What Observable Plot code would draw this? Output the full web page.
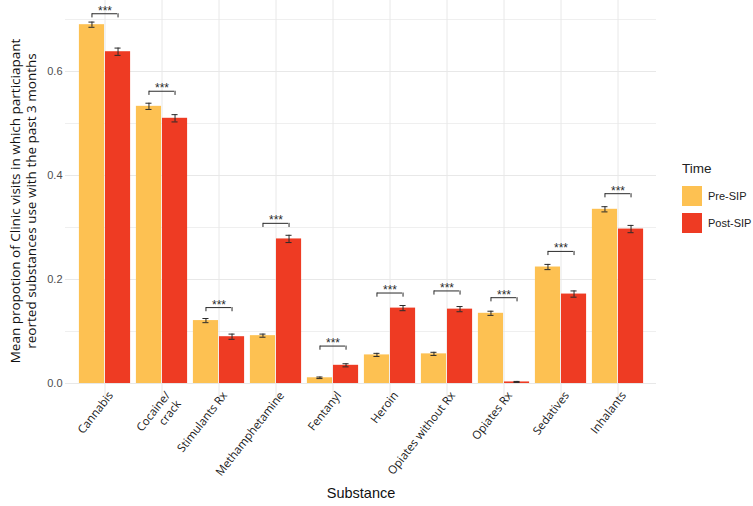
<!DOCTYPE html>
<html>
<head>
<meta charset="utf-8">
<script src="https://cdn.jsdelivr.net/npm/d3@7"></script>
<script src="https://cdn.jsdelivr.net/npm/@observablehq/plot@0.6"></script>
<style>
  html, body { margin: 0; padding: 0; background: #fff; }
  #wrap { position: relative; width: 753px; height: 506px; overflow: hidden; }
  .legend { position: absolute; left: 682px; top: 160px; font-family: "Liberation Sans", Arial, sans-serif; color: #222; white-space: nowrap; }
  .legend .title { font-size: 13.5px; height: 22px; line-height: 18px; }
  .legend .row { display: flex; align-items: center; height: 27px; }
  .legend .sw { width: 20px; height: 20px; margin-right: 6px; flex: none; }
  .legend .lab { font-size: 11px; white-space: nowrap; }
</style>
</head>
<body>
<div id="wrap"></div>
<script>
// ---- data ----
const substances = ["Cannabis", "Cocaine/\ncrack", "Stimulants Rx", "Methamphetamine", "Fentanyl",
  "Heroin", "Opiates without Rx", "Opiates Rx", "Sedatives", "Inhalants"];
const preSIP  = [0.690, 0.533, 0.121, 0.092, 0.011, 0.055, 0.057, 0.135, 0.224, 0.335];
const postSIP = [0.638, 0.510, 0.090, 0.278, 0.035, 0.145, 0.143, 0.003, 0.172, 0.297];
const preErr  = [0.005, 0.006, 0.004, 0.003, 0.0015, 0.003, 0.003, 0.004, 0.005, 0.005];
const postErr = [0.007, 0.007, 0.005, 0.007, 0.003, 0.005, 0.005, 0.001, 0.006, 0.007];
const sigHeights = [0.711, 0.562, 0.146, 0.308, 0.072, 0.174, 0.178, 0.165, 0.254, 0.365];
const sigLabels = ["***", "***", "***", "***", "***", "***", "***", "***", "***", "***"];
const timeLevels = ["Pre-SIP", "Post-SIP"];
const timeColors = ["#fdc152", "#ee3b23"];
const yTicks = [0, 0.2, 0.4, 0.6];
const yMinorTicks = [0.1, 0.3, 0.5, 0.7];
const yTitle = "Mean propotion of Clinic visits in which particiapant\nreorted substances use with the past 3 months";
const xTitle = "Substance";

const rows = substances.map((s, i) => ({
  substance: s, pre: preSIP[i], post: postSIP[i], preErr: preErr[i], postErr: postErr[i],
  sig: sigHeights[i], label: sigLabels[i]
}));

// ---- layout ----
const W = 753, H = 506;
const mL = 65, mR = 97, mT = 0, mB = 105;
const paddingOuter = 0.1;
const bw = (W - mL - mR) / (substances.length + 2 * paddingOuter);
const offs = 0.225 * bw;       // bar center offset from band center
const cap = 3.5;               // half cap width
const ink = "#2a2a2a";

const chart = Plot.plot({
  width: W, height: H,
  marginLeft: mL, marginRight: mR, marginTop: mT, marginBottom: mB,
  style: { background: "#fff", overflow: "visible" },
  x: { type: "band", domain: substances, paddingInner: 0, paddingOuter: paddingOuter, axis: null },
  y: { domain: [-0.0346, 0.7365], axis: null },
  marks: [
    Plot.gridY(yMinorTicks, { stroke: "#efefef", strokeOpacity: 1, strokeWidth: 1 }),
    Plot.gridY(yTicks, { stroke: "#e8e8e8", strokeOpacity: 1, strokeWidth: 1 }),
    Plot.gridX(substances, { stroke: "#e8e8e8", strokeOpacity: 1, strokeWidth: 1 }),
    Plot.axisY(yTicks, { tickSize: 0, tickPadding: 3, tickFormat: d3.format(".1f"), label: null,
      fontSize: 11, fill: "#4d4d4d", fontFamily: "Liberation Sans, Arial, sans-serif" }),
    // bars
    Plot.barY(rows, { x: "substance", y: "pre", fill: timeColors[0], insetLeft: 0.05 * bw, insetRight: 0.5 * bw }),
    Plot.barY(rows, { x: "substance", y: "post", fill: timeColors[1], insetLeft: 0.5 * bw, insetRight: 0.05 * bw }),
    // error bars
    Plot.ruleX(rows, { x: "substance", y1: d => d.pre - d.preErr, y2: d => d.pre + d.preErr, dx: -offs, stroke: ink, strokeWidth: 1 }),
    Plot.ruleX(rows, { x: "substance", y1: d => d.post - d.postErr, y2: d => d.post + d.postErr, dx: offs, stroke: ink, strokeWidth: 1 }),
    Plot.tickY(rows, { x: "substance", y: d => d.pre + d.preErr, stroke: ink, insetLeft: 0.275 * bw - cap, insetRight: 0.725 * bw - cap }),
    Plot.tickY(rows, { x: "substance", y: d => d.pre - d.preErr, stroke: ink, insetLeft: 0.275 * bw - cap, insetRight: 0.725 * bw - cap }),
    Plot.tickY(rows, { x: "substance", y: d => d.post + d.postErr, stroke: ink, insetLeft: 0.725 * bw - cap, insetRight: 0.275 * bw - cap }),
    Plot.tickY(rows, { x: "substance", y: d => d.post - d.postErr, stroke: ink, insetLeft: 0.725 * bw - cap, insetRight: 0.275 * bw - cap }),
    // significance brackets
    Plot.tickY(rows, { x: "substance", y: "sig", stroke: ink, strokeWidth: 1, insetLeft: 0.275 * bw, insetRight: 0.275 * bw }),
    Plot.ruleX(rows, { x: "substance", y1: d => d.sig - 0.008, y2: "sig", dx: -offs, stroke: ink, strokeWidth: 1 }),
    Plot.ruleX(rows, { x: "substance", y1: d => d.sig - 0.008, y2: "sig", dx: offs, stroke: ink, strokeWidth: 1 }),
    Plot.text(rows, { x: "substance", y: "sig", text: "label", lineAnchor: "bottom", dy: 1,
      fontSize: 12, fill: ink, fontFamily: "Liberation Sans, Arial, sans-serif" }),
    // x tick labels
    Plot.text(substances, { x: d => d, text: d => d, frameAnchor: "bottom", rotate: -52, textAnchor: "end",
      lineAnchor: "top", dx: 1, dy: -12, fontSize: 11.5, fill: "#1a1a1a", fontFamily: "Open Sans, sans-serif", lineHeight: 1.2 }),
    // axis titles
    Plot.text([yTitle], { frameAnchor: "left", text: d => d, rotate: -90, dx: -43, textAnchor: "middle", lineAnchor: "middle",
      fontSize: 13.5, fill: "#111", fontFamily: "Open Sans, sans-serif", lineHeight: 1.2 }),
    Plot.text([xTitle], { frameAnchor: "bottom", text: d => d, dy: 92, textAnchor: "middle", lineAnchor: "middle",
      fontSize: 14.5, fill: "#111", fontFamily: "Liberation Sans, Arial, sans-serif" })
  ]
});

const wrap = document.getElementById("wrap");
wrap.appendChild(chart);

// legend
const leg = document.createElement("div");
leg.className = "legend";
const t = document.createElement("div");
t.className = "title";
t.textContent = "Time";
leg.appendChild(t);
timeLevels.forEach((lv, i) => {
  const r = document.createElement("div");
  r.className = "row";
  const sw = document.createElement("div");
  sw.className = "sw";
  sw.style.background = timeColors[i];
  const lab = document.createElement("span");
  lab.className = "lab";
  lab.textContent = lv;
  r.appendChild(sw); r.appendChild(lab);
  leg.appendChild(r);
});
wrap.appendChild(leg);
</script>
</body>
</html>
